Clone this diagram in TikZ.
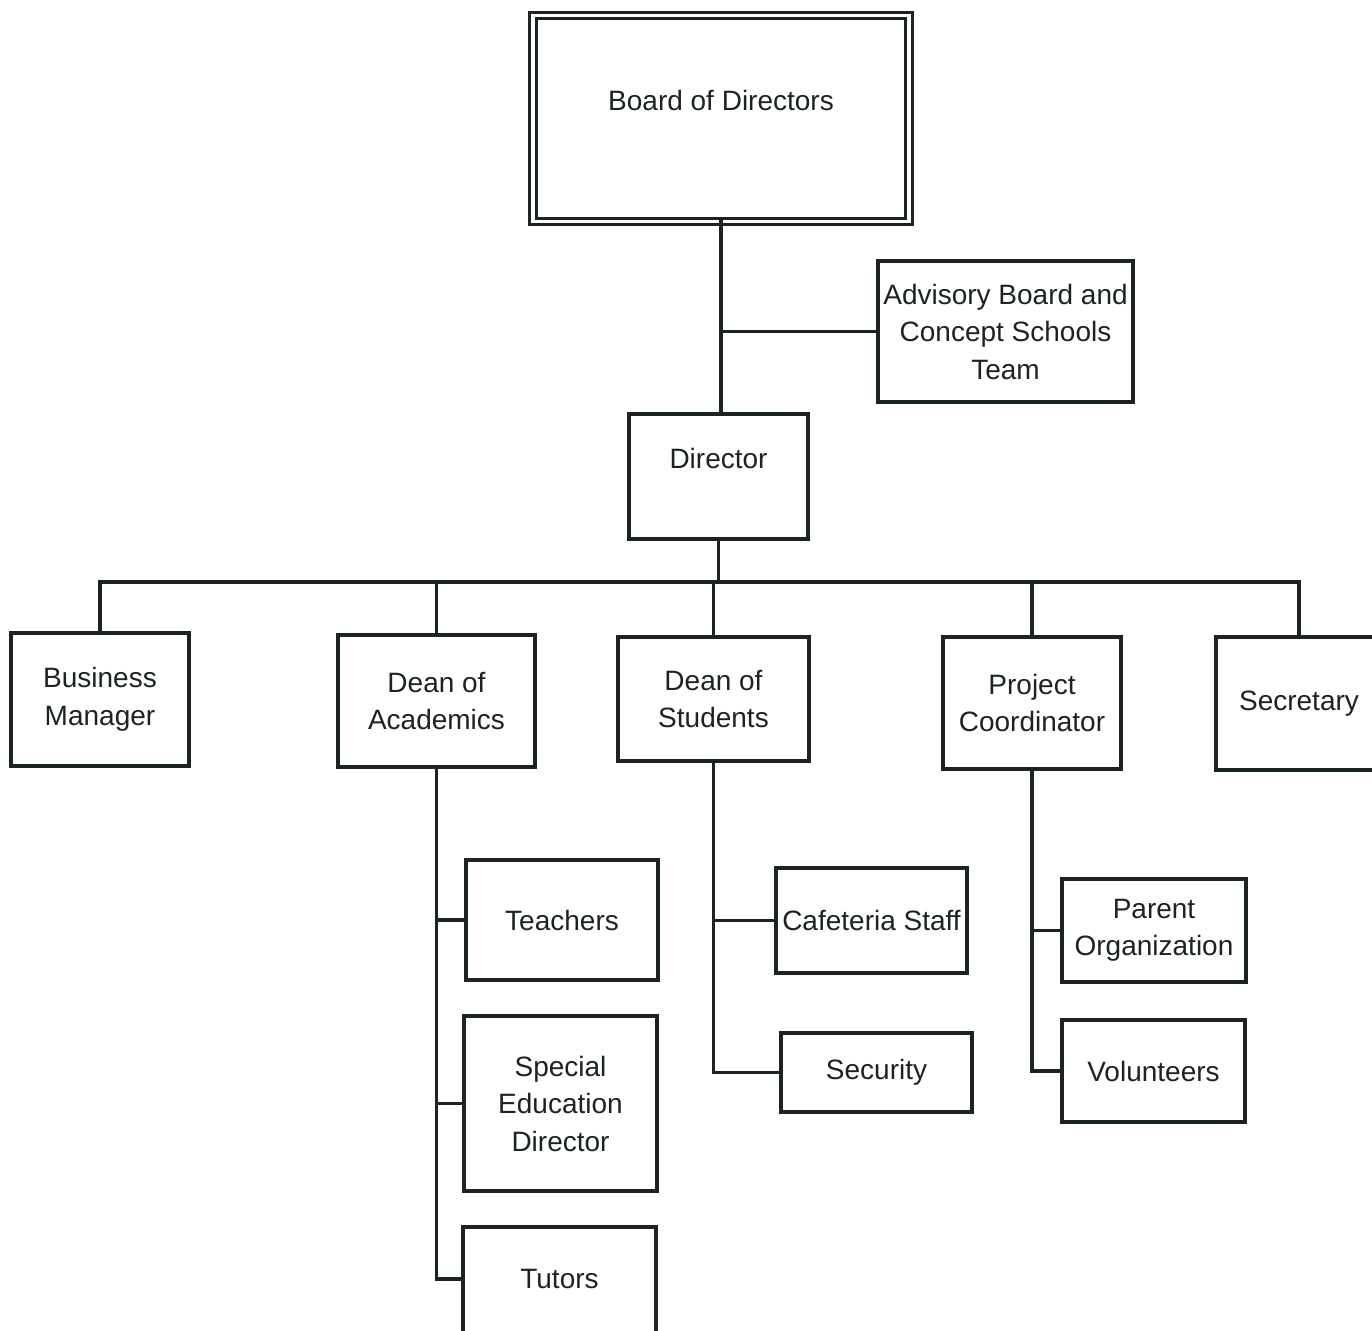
\documentclass[tikz,border=0pt]{standalone}
\usepackage{fontspec}
\setmainfont{Liberation Sans}
\definecolor{ink}{RGB}{28,36,33}
\begin{document}
\begin{tikzpicture}[x=1pt,y=-1pt,
  every node/.style={inner sep=0pt,outer sep=0pt,align=center,text=ink,font=\fontsize{28}{37.5}\selectfont},
  box/.style={draw=ink,line width=3.2pt,rectangle},
  conn/.style={draw=ink,line width=3.2pt,line cap=rect}]
\clip (0,0) rectangle (1372,1330);
\fill[white] (0,0) rectangle (1372,1330);
% top
\node[box,double=white,line width=3pt,double distance=3.6pt,minimum width=376pt,minimum height=206pt] (bod) at (721,118.5) {};
\node (bodt) at (721,100) {Board of Directors};
\node[box,minimum width=255pt,minimum height=141pt] (adv) at (1005.5,331.5) {Advisory Board and\\Concept Schools\\Team};
\node[box,minimum width=179pt,minimum height=125pt] (dir) at (718.5,476.5) {};
\node (dirt) at (718.5,458) {Director};
% second level
\node[box,minimum width=178pt,minimum height=133pt] (bm) at (100,699.5) {Business\\Manager};
\node[box,minimum width=197pt,minimum height=132pt] (da) at (436.5,701) {Dean of\\Academics};
\node[box,minimum width=191pt,minimum height=124pt] (ds) at (713.5,699) {Dean of\\Students};
\node[box,minimum width=178pt,minimum height=132pt] (pc) at (1032,703) {Project\\Coordinator};
\node[box,minimum width=166pt,minimum height=133pt] (sec) at (1299,703.5) {Secretary};
% third level
\node[box,minimum width=192pt,minimum height=120pt] (tea) at (562,920) {Teachers};
\node[box,minimum width=193pt,minimum height=175pt] (sed) at (560.5,1103.5) {Special\\Education\\Director};
\node[box,minimum width=193pt,minimum height=120pt] (tut) at (559.5,1287) {};
\node (tutt) at (559.5,1279) {Tutors};
\node[box,minimum width=191pt,minimum height=105pt] (caf) at (871.5,920.5) {Cafeteria Staff};
\node[box,minimum width=191pt,minimum height=79pt] (secu) at (876.5,1072.5) {Security};
\node[box,minimum width=184pt,minimum height=103pt] (par) at (1154,930.5) {Parent\\Organization};
\node[box,minimum width=183pt,minimum height=102pt] (vol) at (1153.5,1071) {Volunteers};
\coordinate (bus) at (718,582);
% connectors
\draw[conn] (bod.south) -- (bod.south |- dir.north);
\draw[conn] (bod.south |- adv.west) -- (adv.west);
\draw[conn] (dir.south) -- (dir.south |- bus);
\draw[conn] (bm.north |- bus) -- (sec.north |- bus);
\draw[conn] (bm.north) -- (bm.north |- bus);
\draw[conn] (da.north) -- (da.north |- bus);
\draw[conn] (ds.north) -- (ds.north |- bus);
\draw[conn] (pc.north) -- (pc.north |- bus);
\draw[conn] (sec.north) -- (sec.north |- bus);
\draw[conn] (da.south) -- (da.south |- tutt);
\draw[conn] (da.south |- tea.west) -- (tea.west);
\draw[conn] (da.south |- sed.west) -- (sed.west);
\draw[conn] (da.south |- tutt) -- (tut.west |- tutt);
\draw[conn] (ds.south) -- (ds.south |- secu.west);
\draw[conn] (ds.south |- caf.west) -- (caf.west);
\draw[conn] (ds.south |- secu.west) -- (secu.west);
\draw[conn] (pc.south) -- (pc.south |- vol.west);
\draw[conn] (pc.south |- par.west) -- (par.west);
\draw[conn] (pc.south |- vol.west) -- (vol.west);
\end{tikzpicture}
\end{document}
